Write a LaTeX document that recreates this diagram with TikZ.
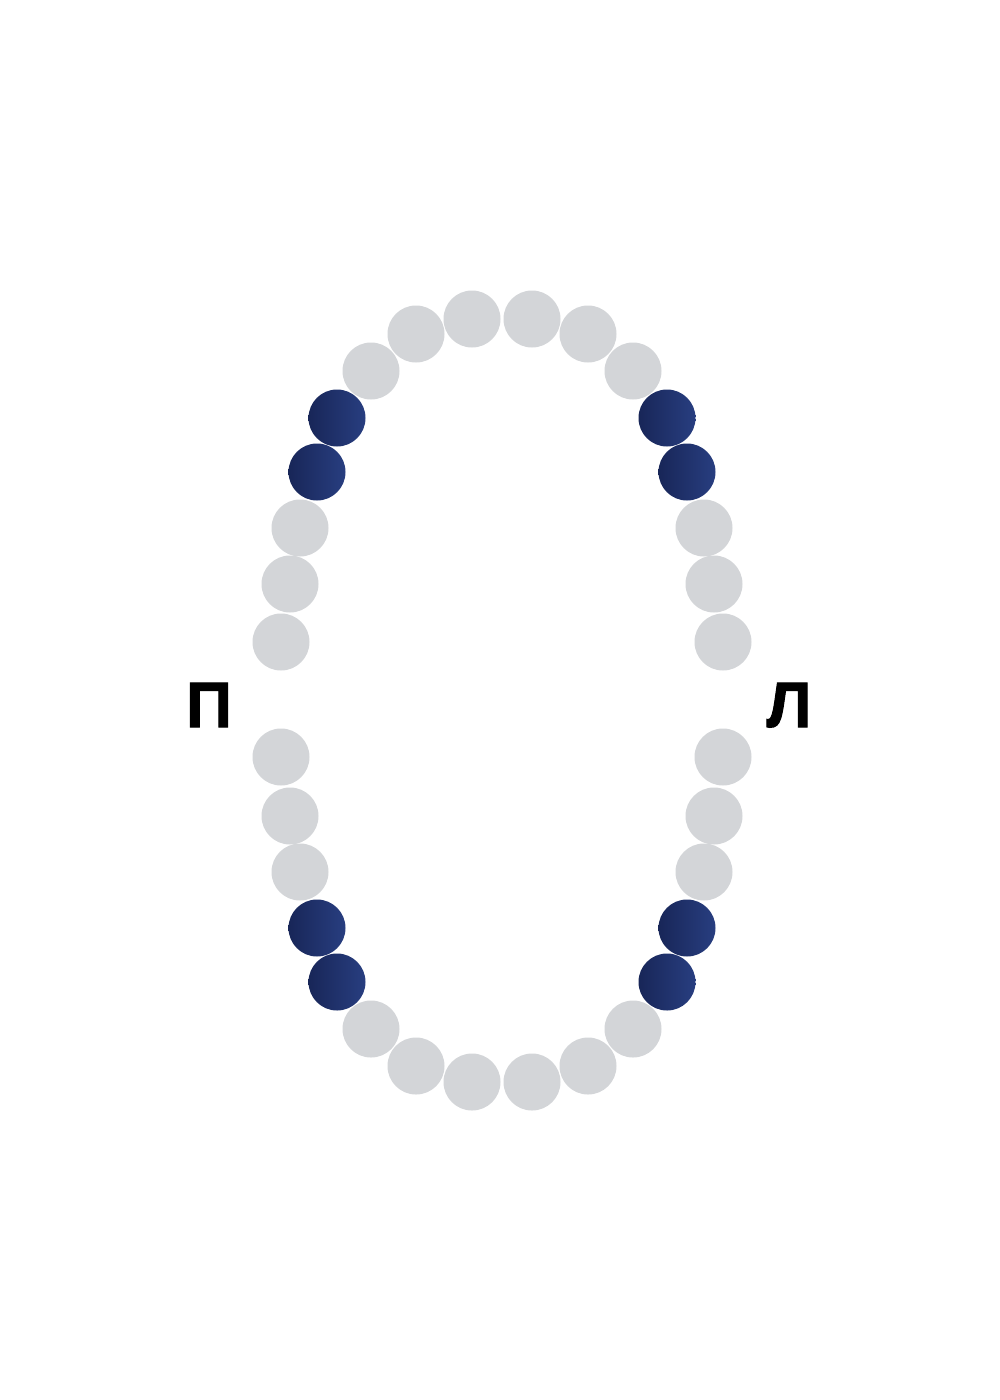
\documentclass[tikz,border=0pt]{standalone}
\usepackage{fontspec}
\setmainfont{Liberation Sans}
\newfontfamily\labelfont{Liberation Sans}[BoldFeatures={FakeBold=1.6}]
\definecolor{toothgray}{RGB}{211,213,216}
\definecolor{navyL}{RGB}{24,38,88}
\definecolor{navyR}{RGB}{40,62,128}
\tikzset{
  tooth/.style={circle, fill=toothgray, minimum size=57pt, inner sep=0pt},
  marked/.style={circle, left color=navyL, right color=navyR, minimum size=57pt, inner sep=0pt},
  sidelabel/.style={font=\labelfont\bfseries\fontsize{64}{64}\selectfont, anchor=base, inner sep=0pt}
}
\begin{document}
\begin{tikzpicture}[x=1pt,y=-1pt]
\useasboundingbox[fill=white] (0,0) rectangle (1000,1400);
% upper arch
\foreach \n/\x/\y in {u1/472/319, u2/532/319, u3/416/334, u4/588/334, u5/371/371, u6/633/371,
  u7/300/528, u8/704/528, u9/290/584, u10/714/584, u11/281/642, u12/723/642}
  \node[tooth] (\n) at (\x,\y) {};
\foreach \n/\x/\y in {ud1/337/418, ud2/667/418, ud3/317/472, ud4/687/472}
  \node[marked] (\n) at (\x,\y) {};
% lower arch
\foreach \n/\x/\y in {l1/472/1082, l2/532/1082, l3/416/1066, l4/588/1066, l5/371/1029, l6/633/1029,
  l7/300/872, l8/704/872, l9/290/816, l10/714/816, l11/281/757, l12/723/757}
  \node[tooth] (\n) at (\x,\y) {};
\foreach \n/\x/\y in {ld1/317/928, ld2/687/928, ld3/337/982, ld4/667/982}
  \node[marked] (\n) at (\x,\y) {};
% labels
\node[sidelabel] (right) at (209,727) {П};
\node[sidelabel] (left) at (789,727) {Л};
\end{tikzpicture}
\end{document}
